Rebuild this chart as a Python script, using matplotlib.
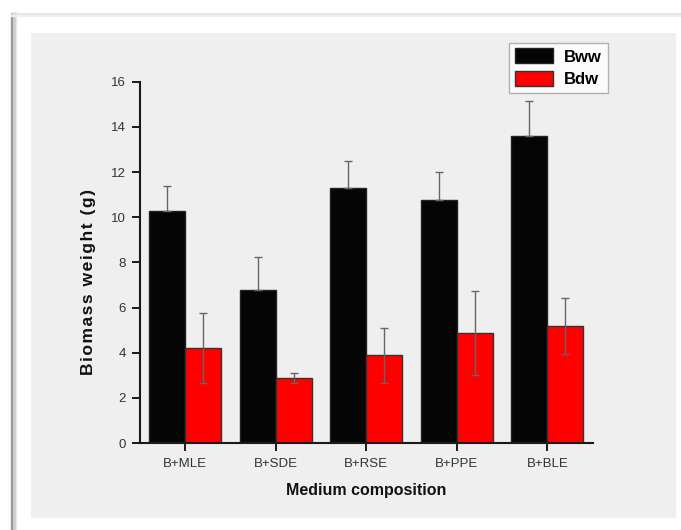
import matplotlib
matplotlib.use("Agg")
import matplotlib.pyplot as plt
import numpy as np
from matplotlib.patches import Rectangle
from matplotlib.lines import Line2D

categories = ["B+MLE", "B+SDE", "B+RSE", "B+PPE", "B+BLE"]
bww = [10.28, 6.78, 11.28, 10.78, 13.6]
bww_err = [1.1, 1.46, 1.2, 1.2, 1.55]
bdw = [4.2, 2.88, 3.88, 4.86, 5.18]
bdw_err = [1.56, 0.21, 1.22, 1.85, 1.23]
yticks = [0, 2, 4, 6, 8, 10, 12, 14, 16]

plt.rcParams['font.family'] = ['Liberation Sans', 'DejaVu Sans']

W, H = 681, 530
fig = plt.figure(figsize=(W / 100, H / 100), dpi=100)
fig.patch.set_facecolor('white')

def fx(px):
    return px / W

def fy(py):
    return 1 - py / H

# outer frame with shadow
for off, c, lw in [(3, '#e6e6e6', 3), (1.5, '#cfcfcf', 2)]:
    fig.add_artist(Line2D([fx(12 + off), fx(12 + off)], [fy(14), 0], color=c, lw=lw, transform=fig.transFigure))
fig.add_artist(Line2D([fx(12), fx(12)], [fy(14), 0], color='#9a9a9a', lw=1.6, transform=fig.transFigure))
fig.add_artist(Line2D([fx(12), 1], [fy(14), fy(14)], color='#e2e2e2', lw=1.2, transform=fig.transFigure))
fig.add_artist(Line2D([fx(12), 1], [fy(15.5), fy(15.5)], color='#f0f0f0', lw=1.5, transform=fig.transFigure))

# gray panel
fig.add_artist(Rectangle((fx(31), fy(518)), fx(676) - fx(31), fy(33) - fy(518),
                         facecolor='#efefef', edgecolor='none', transform=fig.transFigure, zorder=0))

ax = fig.add_axes([fx(140), fy(443), fx(592.5) - fx(140), fy(81.7) - fy(443)])
ax.set_facecolor('none')

x = np.arange(len(categories))
w = 0.4
ek = dict(ecolor='#666666', elinewidth=1.0, capsize=3, capthick=1.0)
ax.bar(x - w / 2, bww, w, color='#050505', edgecolor='#222222', linewidth=1.0,
       yerr=[np.zeros(len(bww)), bww_err], error_kw=ek, label='Bww', zorder=2)
ax.bar(x + w / 2, bdw, w, color='#ff0000', edgecolor='#333333', linewidth=1.0,
       yerr=bdw_err, error_kw=ek, label='Bdw', zorder=2)

ax.set_xlim(-0.5, 4.5)
ax.set_ylim(0, 16)
ax.set_yticks(yticks)
ax.set_xticks(x)
ax.set_xticklabels(categories)
for s in ['top', 'right']:
    ax.spines[s].set_visible(False)
for s in ['left', 'bottom']:
    ax.spines[s].set_linewidth(1.5)
    ax.spines[s].set_color('#1a1a1a')
ax.tick_params(axis='both', direction='out', length=6, width=1.4, color='#1a1a1a',
               labelsize=9.5, labelcolor='#333333', pad=4)
ax.tick_params(axis='x', pad=5)

ax.set_xlabel('Medium composition', fontsize=11.5, fontweight='bold', labelpad=9, color='#111111')

ylab = '\u200a'.join('Biomass weight (g)')
fig.text(fx(89), fy(282), ylab, rotation=90, ha='center', va='center',
         fontsize=12.6, fontweight='bold', color='#111111')

leg = ax.legend(loc='upper right', bbox_to_anchor=(fx(607.5), fy(42.5)), bbox_transform=fig.transFigure,
                frameon=True, fancybox=False, fontsize=12, handlelength=2.3, handleheight=1.0,
                borderpad=0.35, labelspacing=0.4, handletextpad=0.65, borderaxespad=0)
leg.get_frame().set_edgecolor('#a0a0a0')
leg.get_frame().set_linewidth(1.0)
for t in leg.get_texts():
    t.set_fontweight('bold')

fig.savefig('out.png', dpi=100, facecolor='white')
